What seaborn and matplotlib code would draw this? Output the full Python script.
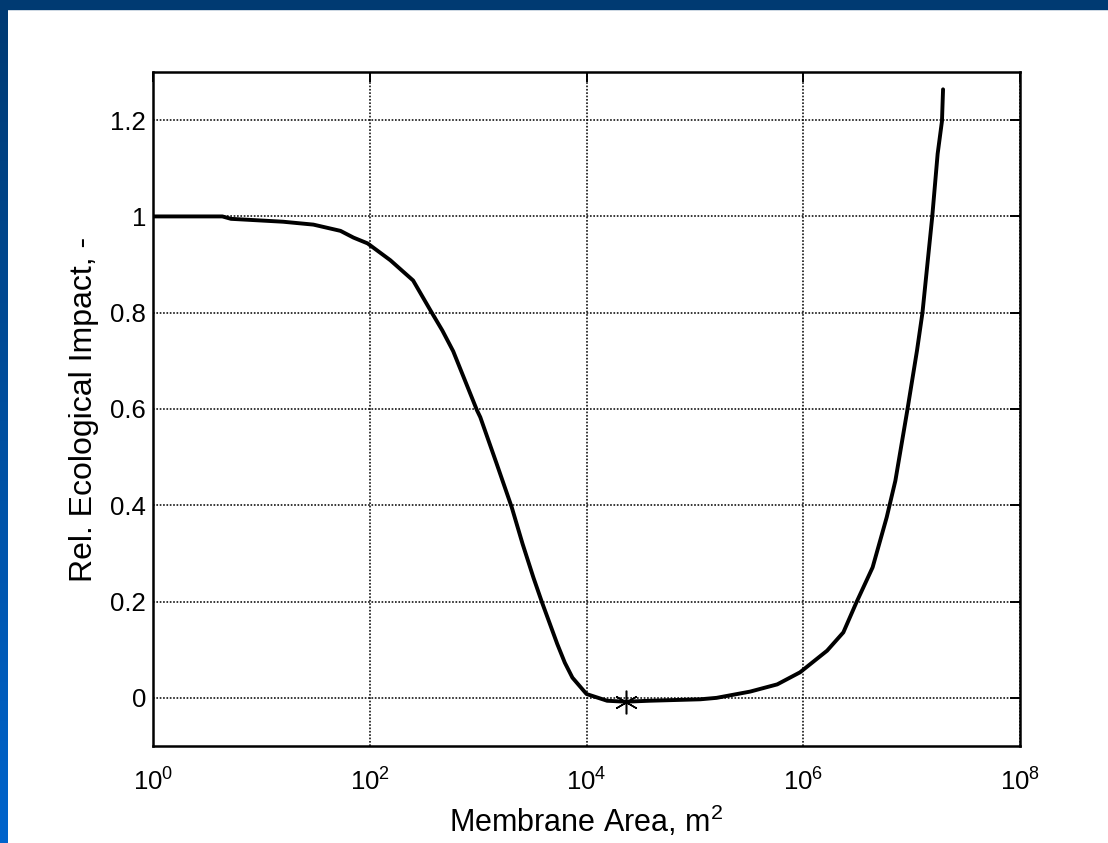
import numpy as np
import pandas as pd
import seaborn as sns
from matplotlib import pyplot as plt
from matplotlib.patches import Rectangle

# values (log10 of area, relative impact)
log_area = [0.0, 0.64, 0.72, 1.2, 1.48, 1.73, 1.85, 1.98, 2.19, 2.40, 2.57, 2.67, 2.77,
            2.99, 3.02, 3.17, 3.31, 3.41, 3.51, 3.59, 3.73, 3.80, 3.87, 4.0, 4.19, 4.36,
            4.58, 5.05, 5.2, 5.51, 5.76, 5.97, 6.22, 6.37, 6.49, 6.64, 6.77, 6.85, 6.96,
            7.05, 7.10, 7.19, 7.24, 7.28, 7.29]
impact = [1.0, 1.0, 0.995, 0.989, 0.983, 0.970, 0.956, 0.944, 0.909, 0.867, 0.801, 0.763, 0.72,
          0.597, 0.583, 0.487, 0.396, 0.32, 0.25, 0.198, 0.112, 0.073, 0.042, 0.008, -0.006, -0.008,
          -0.006, -0.003, 0.0, 0.013, 0.028, 0.053, 0.098, 0.136, 0.198, 0.271, 0.375, 0.451, 0.597,
          0.722, 0.80, 0.999, 1.13, 1.198, 1.264]
opt_area = 2.3e4
opt_impact = -0.008

df = pd.DataFrame({"area": np.power(10.0, log_area), "impact": impact})

sns.set_style("white")
plt.rcParams['font.family'] = ['Liberation Sans', 'DejaVu Sans']
plt.rcParams['mathtext.fontset'] = 'custom'
plt.rcParams['mathtext.rm'] = 'Liberation Sans'
plt.rcParams['mathtext.it'] = 'Liberation Sans'
plt.rcParams['text.color'] = 'black'
plt.rcParams['axes.labelcolor'] = 'black'

fig = plt.figure(figsize=(11.08, 8.43), dpi=100, facecolor="white")

# slide frame: dark top bar and gradient left bar
fig.patches.append(Rectangle((0, 1 - 9 / 843), 1, 9 / 843, transform=fig.transFigure,
                             color="#003a72", zorder=0))
bar = fig.add_axes([0, 0, 8 / 1108, 1])
bar.imshow(np.linspace(0, 1, 256).reshape(-1, 1), aspect="auto",
           cmap=sns.blend_palette(["#003a72", "#0064cc"], as_cmap=True))
bar.axis("off")

ax = fig.add_axes([153 / 1108, 97 / 843, 867 / 1108, 674 / 843])
sns.lineplot(data=df, x="area", y="impact", ax=ax, color="black", linewidth=2.8,
             sort=False, estimator=None)
ax.plot([opt_area], [opt_impact], marker=(6, 2, 0), markersize=17, color="black",
        markeredgewidth=1.1, linestyle="none")

ax.set_xscale("log")
ax.set_xlim(1, 1e8)
ax.set_ylim(-0.1, 1.3)
ax.set_xticks([1e0, 1e2, 1e4, 1e6, 1e8])
ax.set_xticklabels([r"$10^{0}$", r"$10^{2}$", r"$10^{4}$", r"$10^{6}$", r"$10^{8}$"])
ax.minorticks_off()
ax.set_yticks([0, 0.2, 0.4, 0.6, 0.8, 1.0, 1.2])
ax.set_yticklabels(["0", "0.2", "0.4", "0.6", "0.8", "1", "1.2"])
ax.grid(True, color="black", linestyle=(0, (1.1, 1.1)), linewidth=1.1)
ax.tick_params(direction="in", length=7, width=1.4, top=True, right=True,
               labelsize=18.5, colors="black")
ax.tick_params(axis="y", pad=5)
ax.tick_params(axis="x", pad=16)
for s in ax.spines.values():
    s.set_visible(True)
    s.set_color("black")
    s.set_linewidth(1.8)

ax.set_xlabel(r"Membrane Area, m$^{2}$", fontsize=22, labelpad=6)
ax.set_ylabel("Rel. Ecological Impact, -", fontsize=23, labelpad=8)

fig.savefig("out.png", dpi=100, facecolor=fig.get_facecolor())
